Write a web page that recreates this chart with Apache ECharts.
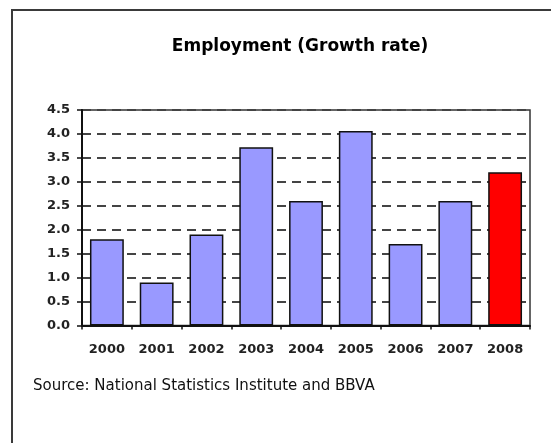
<!DOCTYPE html>
<html>
<head>
<meta charset="utf-8">
<script src="https://cdn.jsdelivr.net/npm/echarts@6/dist/echarts.min.js"></script>
<style>
html,body{margin:0;padding:0;background:#ffffff;}
#chart{width:551px;height:443px;}
</style>
</head>
<body>
<div id="chart"></div>
<script>
const titleText = 'Employment (Growth rate)';
const sourceText = 'Source: National Statistics Institute and BBVA';
const years = ['2000','2001','2002','2003','2004','2005','2006','2007','2008'];
const growth = [1.8, 0.9, 1.9, 3.72, 2.6, 4.06, 1.7, 2.6, 3.2];
const highlightYear = '2008';
const yMin = 0, yMax = 4.5, yStep = 0.5;

const chart = echarts.init(document.getElementById('chart'), null, {renderer:'canvas'});
const barData = years.map((y, i) => ({
  value: growth[i],
  itemStyle: { color: y === highlightYear ? '#ff0000' : '#9999ff' }
}));

chart.setOption({
  backgroundColor: '#ffffff',
  animation: false,
  graphic: [
    { type: 'rect', shape: { x: 12, y: 10, width: 600, height: 500 },
      style: { fill: 'none', stroke: '#3a3a3a', lineWidth: 2 }, z: -1 },
    { type: 'text', x: 300, y: 47,
      style: { text: titleText, font: 'bold 17px "DejaVu Sans"', fill: '#000',
               textAlign: 'center', textVerticalAlign: 'middle' } },
    { type: 'text', x: 33, y: 386,
      style: { text: sourceText, font: '15px "DejaVu Sans"', fill: '#111',
               textAlign: 'left', textVerticalAlign: 'middle' } }
  ],
  grid: { left: 82, top: 110, right: 21, bottom: 117.5, show: true,
          borderColor: '#333', borderWidth: 1.5, backgroundColor: 'transparent' },
  xAxis: {
    type: 'category', data: years,
    axisLine: { lineStyle: { color: '#111', width: 2 } },
    axisTick: { show: true, length: 4, lineStyle: { color: '#111', width: 1.5 } },
    axisLabel: { fontFamily: 'DejaVu Sans', fontWeight: 'bold', fontSize: 13, color: '#222', margin: 18 }
  },
  yAxis: {
    type: 'value', min: yMin, max: yMax, interval: yStep,
    axisLine: { show: true, lineStyle: { color: '#111', width: 2 } },
    axisTick: { show: true, length: 5, lineStyle: { color: '#111', width: 1.5 } },
    axisLabel: { fontFamily: 'DejaVu Sans', fontWeight: 'bold', fontSize: 13, color: '#222', margin: 12,
                 formatter: v => v.toFixed(1) },
    splitLine: { show: true, lineStyle: { color: '#444', width: 2, type: [9, 6] } }
  },
  series: [{
    type: 'bar', data: barData, barWidth: '68%',
    itemStyle: { borderColor: '#111', borderWidth: 1.5 }
  }]
});
</script>
</body>
</html>
